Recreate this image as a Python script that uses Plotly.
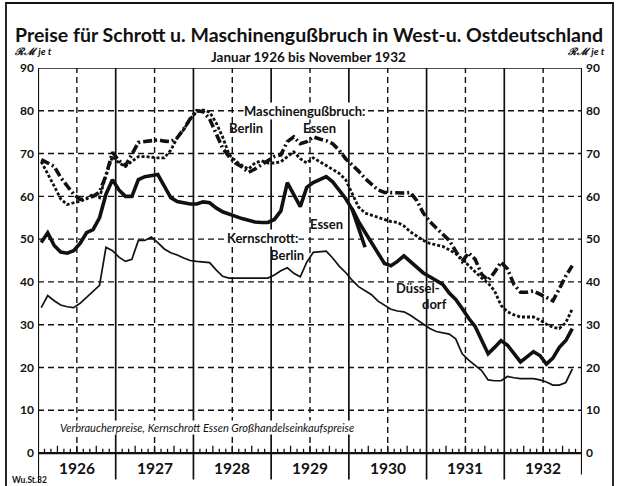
import plotly.graph_objects as go

# ---------------- data (RM je t), monthly, Jan 1926 = index 0 ----------------
years = [1926, 1927, 1928, 1929, 1930, 1931, 1932]
y_ticks = [0, 10, 20, 30, 40, 50, 60, 70, 80, 90]

# Maschinengußbruch Essen (Jan 1926 - Nov 1932)
masch_essen = [
    68.6, 67.8, 67.0, 64.4, 62.3, 60.5, 59.3, 59.5, 60.0, 61.0, 64.9, 70.3,
    68.3, 67.2, 69.8, 72.6, 72.8, 73.0, 73.2, 72.9, 72.8, 73.7, 75.7, 78.1,
    80.0, 79.8, 78.1, 74.7, 71.3, 69.3, 67.8, 66.9, 65.6, 66.4, 67.4, 68.3,
    69.3, 69.7, 72.8, 73.9, 72.3, 72.8, 73.9, 73.4, 73.0, 72.3, 70.8, 68.8,
    67.4, 65.9, 64.2, 62.9, 61.5, 60.9, 60.8, 60.7, 60.8, 60.9, 59.0, 56.1,
    54.1, 52.6, 51.2, 49.7, 47.2, 44.8, 46.8, 45.3, 41.8, 40.4, 42.3, 44.6,
    43.0, 39.4, 37.6, 37.6, 37.9, 37.2, 36.5, 35.6, 38.4, 41.4, 43.8,
]

# Maschinengußbruch Berlin (Jan 1926 - Nov 1932)
masch_berlin = [
    68.1, 65.4, 62.4, 59.4, 58.1, 58.5, 58.8, 59.5, 60.5, 59.7, 64.9, 69.3,
    67.8, 67.0, 68.1, 69.3, 69.3, 69.1, 69.0, 69.0, 70.8, 73.7, 75.6, 78.1,
    79.8, 80.2, 79.7, 77.2, 73.9, 69.8, 68.3, 67.2, 66.4, 67.8, 68.3, 67.8,
    67.8, 68.1, 69.3, 70.4, 68.8, 67.8, 69.0, 68.1, 67.4, 66.4, 65.4, 63.9,
    60.5, 57.5, 56.1, 55.6, 55.2, 54.6, 54.1, 53.9, 53.1, 51.7, 50.7, 49.7,
    49.0, 48.7, 48.3, 47.5, 46.6, 45.3, 43.8, 42.3, 40.9, 39.7, 37.9, 34.5,
    33.0, 32.3, 31.8, 31.8, 31.8, 31.1, 30.1, 29.4, 29.1, 30.5, 33.7,
]

# Kernschrott Essen (Jan 1926 - Mar 1930)
kern_essen = [
    49.2, 51.5, 48.5, 47.0, 46.7, 47.3, 49.0, 51.5, 52.2, 55.0, 60.5, 63.9,
    61.5, 60.0, 60.0, 63.9, 64.6, 64.9, 65.1, 62.4, 59.7, 58.8, 58.5, 58.2,
    58.2, 58.7, 58.5, 57.3, 56.4, 55.8, 55.3, 54.8, 54.4, 54.0, 53.9, 53.9,
    54.6, 56.6, 63.2, 60.5, 57.6, 62.1, 63.2, 63.9, 64.6, 63.4, 61.5, 59.5,
    57.0, 52.6, 48.1,
]

# Kernschrott Düsseldorf (Jan 1930 - Nov 1932)
kern_duesseldorf_start = 48
kern_duesseldorf = [
    57.1, 54.1, 51.6, 49.2, 46.7, 44.3, 43.8, 44.8, 46.1, 44.8, 43.3, 42.1,
    41.2, 40.4, 39.4, 37.4, 35.9, 33.8, 31.5, 29.6, 26.2, 23.2, 24.7, 26.3,
    25.2, 23.2, 21.3, 22.5, 23.7, 22.8, 20.8, 22.2, 24.7, 26.3, 29.1,
]

# Kernschrott Berlin (Jan 1926 - Nov 1932)
kern_berlin = [
    34.0, 36.8, 35.6, 34.6, 34.2, 34.0, 35.0, 36.4, 37.9, 39.2, 48.1, 47.3,
    45.8, 44.8, 45.3, 49.7, 49.7, 50.5, 49.2, 47.7, 46.8, 46.3, 45.6, 45.0,
    44.8, 44.7, 44.5, 42.8, 41.3, 40.9, 40.9, 40.9, 40.9, 40.9, 40.9, 40.9,
    41.6, 42.6, 43.3, 42.0, 41.2, 44.6, 46.9, 47.0, 47.2, 45.6, 43.7, 42.2,
    40.4, 38.9, 37.9, 37.0, 35.5, 34.5, 33.6, 33.2, 33.0, 32.2, 31.1, 30.1,
    29.1, 28.4, 28.1, 27.8, 26.7, 23.2, 21.7, 20.6, 19.3, 17.1, 16.9, 16.9,
    17.9, 17.6, 17.4, 17.4, 17.4, 17.1, 16.6, 15.9, 15.9, 16.5, 19.7,
]

# ---------------- geometry ----------------
W, H = 618, 486
ML, MR, MT, MB = 38, 36, 68, 3
Y_MIN, Y_MAX = -7.0, 90
X_MAX = 84
PW, PH = W - ML - MR, H - MT - MB

def px(x):   # pixel -> paper x
    return (x - ML) / PW

def py(y):   # pixel -> paper y
    return (H - MB - y) / PH

FONT = "Lato, Liberation Sans, Arial, sans-serif"
BLACK = "#111111"

def mid(n, start=0):
    return [start + i + 0.5 for i in range(n)]

fig = go.Figure()

fig.add_trace(go.Scatter(x=mid(len(kern_berlin)), y=kern_berlin, mode="lines",
                         line=dict(color=BLACK, width=1.7), hoverinfo="skip"))
fig.add_trace(go.Scatter(x=mid(len(kern_essen)), y=kern_essen, mode="lines",
                         line=dict(color=BLACK, width=3.6), hoverinfo="skip"))
fig.add_trace(go.Scatter(x=mid(len(kern_duesseldorf), kern_duesseldorf_start),
                         y=kern_duesseldorf, mode="lines",
                         line=dict(color=BLACK, width=3.6), hoverinfo="skip"))
fig.add_trace(go.Scatter(x=mid(len(masch_berlin)), y=masch_berlin, mode="lines",
                         line=dict(color=BLACK, width=2.8, dash="3px,2px"),
                         hoverinfo="skip"))
fig.add_trace(go.Scatter(x=mid(len(masch_essen)), y=masch_essen, mode="lines",
                         line=dict(color=BLACK, width=3.6, dash="9px,3px,2px,3px"),
                         hoverinfo="skip"))
# invisible trace on right axis so it renders
fig.add_trace(go.Scatter(x=[0], y=[0], yaxis="y2", mode="markers",
                         marker=dict(opacity=0), hoverinfo="skip"))

shapes = []
# horizontal dashed grid
for v in y_ticks[1:-1]:
    shapes.append(dict(type="line", xref="x", yref="y", x0=0, x1=X_MAX, y0=v, y1=v,
                       line=dict(color=BLACK, width=1.4, dash="6px,4px"), layer="below"))
# mid-year dashed verticals
for i in range(len(years)):
    xm = 12 * i + 6
    shapes.append(dict(type="line", xref="x", yref="y", x0=xm, x1=xm, y0=0, y1=90,
                       line=dict(color=BLACK, width=1.4, dash="6px,4px"), layer="below"))
# year boundary solid verticals (extending below the base line)
for i in range(1, len(years)):
    xb = 12 * i
    shapes.append(dict(type="line", xref="x", yref="y", x0=xb, x1=xb, y0=Y_MIN + 0.8, y1=90,
                       line=dict(color=BLACK, width=1.7), layer="below"))
# axes frame
shapes.append(dict(type="line", xref="x", yref="y", x0=0, x1=0, y0=Y_MIN, y1=90,
                   line=dict(color=BLACK, width=2.2)))
shapes.append(dict(type="line", xref="x", yref="y", x0=X_MAX, x1=X_MAX, y0=Y_MIN + 2, y1=90,
                   line=dict(color=BLACK, width=2.2)))
shapes.append(dict(type="line", xref="x", yref="y", x0=0, x1=X_MAX, y0=90, y1=90,
                   line=dict(color=BLACK, width=1.7)))
shapes.append(dict(type="line", xref="x", yref="y", x0=0, x1=X_MAX, y0=0, y1=0,
                   line=dict(color=BLACK, width=2.2)))
# monthly ticks on base line
for m in range(1, X_MAX):
    if m % 12 == 0:
        continue
    h = 1.7 if m % 3 == 0 else 1.0
    shapes.append(dict(type="line", xref="x", yref="y", x0=m, x1=m, y0=0, y1=h,
                       line=dict(color=BLACK, width=1.3)))
# outer frame of the sheet
shapes.append(dict(type="rect", xref="paper", yref="paper",
                   x0=px(6), x1=px(613), y0=py(492), y1=py(3),
                   line=dict(color=BLACK, width=1.8)))

ann = []
def A(text, x, y, size, xref="x", yref="y", bold=True, italic=False, xanchor="center",
      bg=None):
    d = dict(text=text, x=x, y=y, xref=xref, yref=yref, showarrow=False,
             xanchor=xanchor, yanchor="middle",
             font=dict(family=FONT, size=size, color=BLACK,
                       weight="bold" if bold else "normal",
                       style="italic" if italic else "normal"))
    if bg:
        d["bgcolor"] = bg
        d["borderpad"] = 0
    ann.append(d)

A("Preise für Schrott u. Maschinengußbruch in West-u. Ostdeutschland",
  px(309), py(35), 19.5, xref="paper", yref="paper")
A("Januar 1926 bis November 1932", px(308), py(57), 13.5, xref="paper", yref="paper")
A("ℛℳ je t", px(13), py(51), 10, xref="paper", yref="paper", xanchor="left", italic=True)
A("ℛℳ je t", px(607), py(51), 10, xref="paper", yref="paper", xanchor="right", italic=True)
A("Wu.St.32", px(10), py(480), 8.5, xref="paper", yref="paper", xanchor="left")

for i, yr in enumerate(years):
    A(str(yr), 12 * i + 6, -3.5, 15.5)

A("Maschinengußbruch:", 41.1, 79.9, 13, bg="white")
A("Berlin", 32.1, 76.0, 13)
A("Essen", 43.5, 76.0, 13)
A("Essen", 44.6, 53.5, 13)
A("Kernschrott:", 34.6, 50.3, 13, bg="white")
A("Berlin", 38.4, 46.3, 13)
A("Düssel-", 58.7, 38.6, 13)
A("dorf", 61.3, 34.8, 13)
A("Verbraucherpreise, Kernschrott Essen Großhandelseinkaufspreise", 3.2, 6.0, 11,
  bold=False, italic=True, xanchor="left", bg="white")

axis_common = dict(range=[Y_MIN, Y_MAX], tickvals=y_ticks, ticktext=[str(v) for v in y_ticks],
                   showgrid=False, zeroline=False, showline=False, ticks="",
                   tickfont=dict(family=FONT, size=12, color=BLACK, weight="bold"),
                   ticklabelstandoff=3, fixedrange=True)

fig.update_layout(
    width=W, height=H,
    margin=dict(l=ML, r=MR, t=MT, b=MB, pad=0),
    paper_bgcolor="white", plot_bgcolor="white",
    showlegend=False,
    xaxis=dict(range=[0, X_MAX], visible=False, fixedrange=True),
    yaxis=dict(side="left", **axis_common),
    yaxis2=dict(side="right", overlaying="y", **axis_common),
    shapes=shapes,
    annotations=ann,
)

fig.write_html("out.html", config={"displayModeBar": False},
               post_script="document.body.style.margin='0';document.body.style.padding='0';")
